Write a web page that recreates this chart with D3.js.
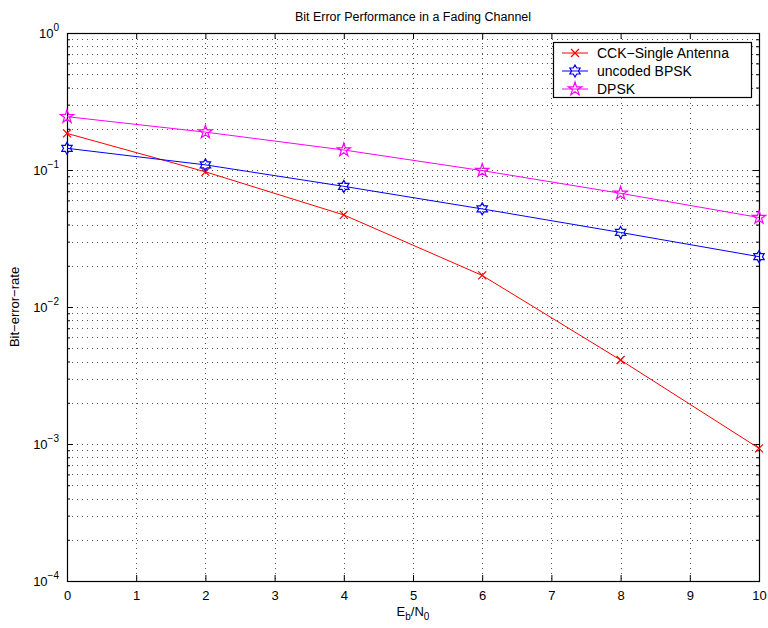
<!DOCTYPE html>
<html>
<head>
<meta charset="utf-8">
<script src="https://cdn.jsdelivr.net/npm/d3@7"></script>
<style>
  body { margin: 0; background: #fff; }
  text { font-family: 'Liberation Sans', Arial, sans-serif; fill: #000; }
</style>
</head>
<body>
<div id="graf"></div>
<script>
// datos
snr = [0, 2, 4, 6, 8, 10]
cck = [0.185, 0.097, 0.047, 0.017, 0.0041, 0.00093]
bpsk = [0.144, 0.109, 0.076, 0.052, 0.035, 0.0233]
dpsk = [0.245, 0.189, 0.14, 0.099, 0.0676, 0.045]
xTicks = [0, 1, 2, 3, 4, 5, 6, 7, 8, 9, 10]
yDecades = [-4, -3, -2, -1, 0]
serieNombres = ['CCK\u2212Single Antenna', 'uncoded BPSK', 'DPSK']

// configuración
ancho_total = 768
alto_total = 628
margins = { top: 33, left: 67, right: 9, bottom: 47 }
ancho = ancho_total - margins.left - margins.right
alto = alto_total - margins.top - margins.bottom

svg = d3.select('#graf').append('svg')
  .attr('width', ancho_total)
  .attr('height', alto_total)

g = svg.append('g')
  .attr('transform', `translate(${margins.left},${margins.top})`)

x = d3.scaleLinear().domain([0, 10]).range([0, ancho])
y = d3.scaleLog().domain([1e-4, 1]).range([alto, 0])

// ticks menores del eje log
minorTicks = []
yDecades.slice(0, -1).forEach(e => {
  for (let k = 2; k <= 9; k++) minorTicks.push(k * Math.pow(10, e))
})
majorTicks = yDecades.map(e => Math.pow(10, e))

// GRID
grid = g.append('g').attr('class', 'grid')
  .attr('stroke', '#555').attr('stroke-width', 1)
  .attr('stroke-dasharray', '1,4')

grid.selectAll('line.gx')
  .data(xTicks.slice(1, -1))
  .enter().append('line')
  .attr('x1', d => Math.round(x(d)) + 0.5).attr('x2', d => Math.round(x(d)) + 0.5)
  .attr('y1', 0).attr('y2', alto)

grid.selectAll('line.gy')
  .data(minorTicks.concat(majorTicks.slice(1, -1)))
  .enter().append('line')
  .attr('y1', d => Math.round(y(d)) + 0.5).attr('y2', d => Math.round(y(d)) + 0.5)
  .attr('x1', 0).attr('x2', ancho)

// EJES (ticks hacia dentro, en los cuatro lados)
xAxisB = d3.axisBottom(x).tickValues(xTicks).tickSizeInner(-6).tickSizeOuter(0).tickPadding(10)
xAxisT = d3.axisTop(x).tickValues(xTicks).tickSizeInner(-6).tickSizeOuter(0).tickFormat('')
yAxisL = d3.axisLeft(y).tickValues(majorTicks).tickSizeInner(-6).tickSizeOuter(0).tickFormat('')
yAxisR = d3.axisRight(y).tickValues(majorTicks).tickSizeInner(-6).tickSizeOuter(0).tickFormat('')
yMinorL = d3.axisLeft(y).tickValues(minorTicks).tickSizeInner(-3).tickSizeOuter(0).tickFormat('')
yMinorR = d3.axisRight(y).tickValues(minorTicks).tickSizeInner(-3).tickSizeOuter(0).tickFormat('')

g.append('g').attr('transform', `translate(0,${alto})`).call(xAxisB)
g.append('g').call(xAxisT)
g.append('g').call(yAxisL)
g.append('g').call(yMinorL)
g.append('g').attr('transform', `translate(${ancho},0)`).call(yAxisR)
g.append('g').attr('transform', `translate(${ancho},0)`).call(yMinorR)

g.selectAll('.domain').remove()
g.selectAll('.tick line').attr('stroke', '#000')
g.selectAll('.tick text').attr('font-size', '13px').attr('font-family', "'Liberation Sans', Arial, sans-serif")

g.append('rect')
  .attr('x', 0.5).attr('y', 0.5)
  .attr('width', ancho).attr('height', alto)
  .attr('fill', 'none').attr('stroke', '#000').attr('stroke-width', 1.2)

// etiquetas de y: 10^e
yLab = g.append('g')
yDecades.forEach(e => {
  t = yLab.append('text')
    .attr('x', -8).attr('y', y(Math.pow(10, e)) + 5)
    .attr('text-anchor', 'end')
    .attr('font-size', '13px')
  t.append('tspan').text('10')
  t.append('tspan').attr('dy', -7).attr('font-size', '10px').text(e === 0 ? '0' : '\u2212' + (-e))
})

// LÍNEAS
linea = d3.line().x((d, i) => x(snr[i])).y(d => y(d))

series = [
  { datos: cck, color: '#ff0000', marca: 'x' },
  { datos: bpsk, color: '#0000ff', marca: 'hex' },
  { datos: dpsk, color: '#ff00ff', marca: 'pent' }
]

function dibujaMarca(sel, tipo, color) {
  if (tipo === 'x') {
    sel.append('path').attr('d', 'M-4,-4L4,4M-4,4L4,-4')
      .attr('stroke', color).attr('stroke-width', 1.2).attr('fill', 'none')
  } else if (tipo === 'hex') {
    r = 6
    pts = []
    for (let k = 0; k < 12; k++) {
      ang = -Math.PI / 2 + k * Math.PI / 6
      rr = k % 2 === 0 ? r : r / Math.sqrt(3)
      pts.push([rr * Math.cos(ang), rr * Math.sin(ang)])
    }
    sel.append('path').attr('d', 'M' + pts.join('L') + 'Z')
      .attr('stroke', color).attr('stroke-width', 1.2).attr('fill', 'none')
  } else {
    r = 7
    pts = []
    for (let k = 0; k < 10; k++) {
      ang = -Math.PI / 2 + k * Math.PI / 5
      rr = k % 2 === 0 ? r : r * 0.382
      pts.push([rr * Math.cos(ang), rr * Math.sin(ang)])
    }
    sel.append('path').attr('d', 'M' + pts.join('L') + 'Z')
      .attr('stroke', color).attr('stroke-width', 1.2).attr('fill', 'none')
  }
}

series.forEach(s => {
  g.append('path').datum(s.datos)
    .attr('d', linea)
    .attr('fill', 'none').attr('stroke', s.color).attr('stroke-width', 1)
  s.datos.forEach((d, i) => {
    m = g.append('g').attr('transform', `translate(${x(snr[i])},${y(d)})`)
    dibujaMarca(m, s.marca, s.color)
  })
})

// LEYENDA
ley = svg.append('g').attr('transform', 'translate(553,42)')
ley.append('rect').attr('x', 0.5).attr('y', 0.5).attr('width', 198).attr('height', 55)
  .attr('fill', '#fff').attr('stroke', '#000').attr('stroke-width', 1.2)
series.forEach((s, i) => {
  yy = 11 + i * 18
  ley.append('line').attr('x1', 9).attr('x2', 35).attr('y1', yy).attr('y2', yy)
    .attr('stroke', s.color).attr('stroke-width', 1)
  m = ley.append('g').attr('transform', `translate(22,${yy})`)
  dibujaMarca(m, s.marca, s.color)
  ley.append('text').attr('x', 44).attr('y', yy + 5)
    .attr('font-size', '14px').text(serieNombres[i])
})

// TÍTULOS
svg.append('text').attr('x', margins.left + ancho / 2).attr('y', 21)
  .attr('text-anchor', 'middle').attr('font-size', '12.5px')
  .text('Bit Error Performance in a Fading Channel')

xl = svg.append('text').attr('x', margins.left + ancho / 2).attr('y', 616)
  .attr('text-anchor', 'middle').attr('font-size', '13px')
xl.append('tspan').text('E')
xl.append('tspan').attr('dy', 4).attr('font-size', '10px').text('b')
xl.append('tspan').attr('dy', -4).text('/N')
xl.append('tspan').attr('dy', 4).attr('font-size', '10px').text('0')

svg.append('text')
  .attr('transform', `translate(19,${margins.top + alto / 2}) rotate(-90)`)
  .attr('text-anchor', 'middle').attr('font-size', '13px')
  .text('Bit\u2212error\u2212rate')
</script>
</body>
</html>
